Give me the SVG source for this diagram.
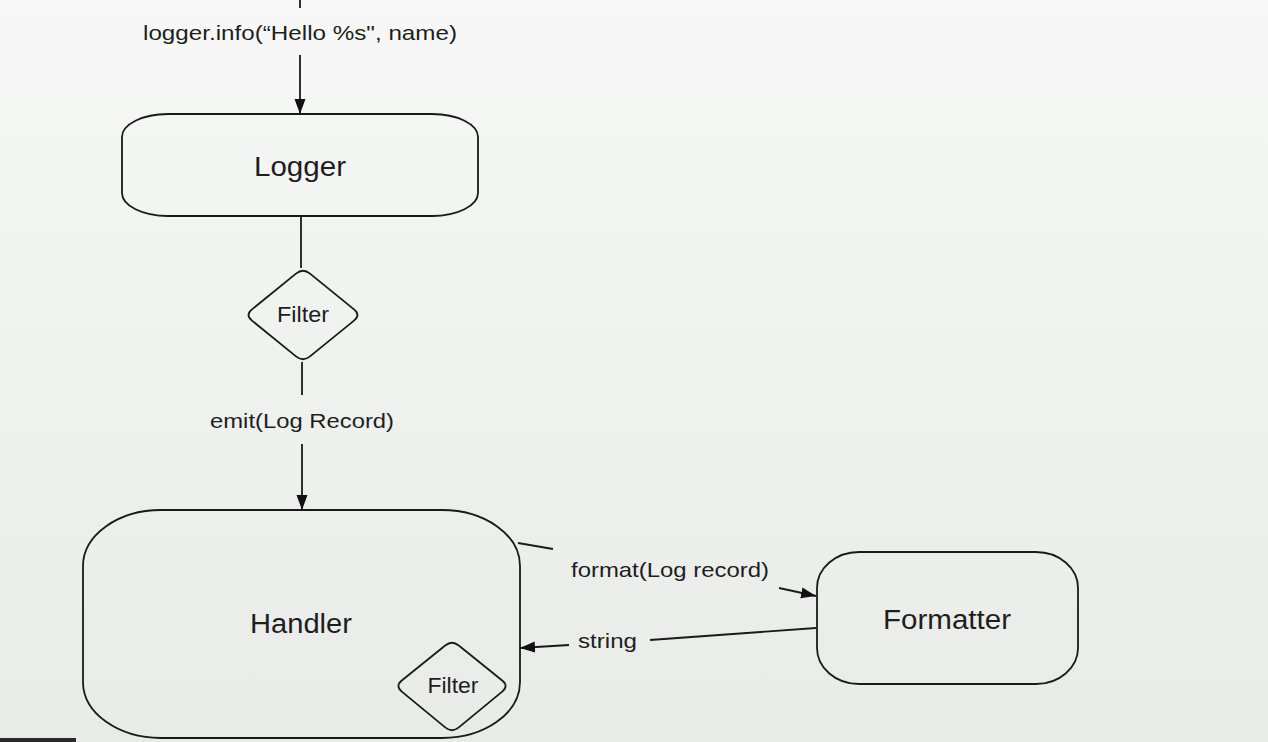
<svg xmlns="http://www.w3.org/2000/svg" width="1268" height="742" viewBox="0 0 1268 742">
<defs>
<linearGradient id="bg" x1="0" y1="0" x2="0" y2="1">
<stop offset="0" stop-color="#f7f8f7"/>
<stop offset="0.4" stop-color="#f1f3f1"/>
<stop offset="1" stop-color="#e9ebe9"/>
</linearGradient>
<marker id="arr" markerUnits="userSpaceOnUse" markerWidth="16" markerHeight="12" refX="15" refY="5.5" orient="auto">
<path d="M0,0 L15,5.5 L0,11 Z" fill="#111"/>
</marker>
</defs>
<style>
.shape{fill:none;stroke:#1a1a1a;stroke-width:1.8}
.conn{fill:none;stroke:#1a1a1a;stroke-width:1.8}
.title{font-family:"Liberation Sans",Arial,sans-serif;font-size:27px;fill:#1e1e1e;text-anchor:middle}
.lbl{font-family:"Liberation Sans",Arial,sans-serif;font-size:21px;fill:#1e1e1e;text-anchor:middle}
.flt{font-family:"Liberation Sans",Arial,sans-serif;font-size:22px;fill:#1e1e1e;text-anchor:middle}
</style>
<rect x="0" y="0" width="1268" height="742" fill="url(#bg)"/>
<rect x="0" y="738" width="76" height="4" fill="#2a2a2a"/>

<g id="connectors">
<line class="conn" x1="300" y1="0" x2="300" y2="8"/>
<line class="conn" x1="300" y1="55" x2="300" y2="114" marker-end="url(#arr)"/>
<line class="conn" x1="301" y1="216" x2="301" y2="268"/>
<line class="conn" x1="302" y1="362" x2="302" y2="395"/>
<line class="conn" x1="302" y1="444" x2="302" y2="510" marker-end="url(#arr)"/>
<line class="conn" x1="518" y1="543" x2="553" y2="549"/>
<line class="conn" x1="779" y1="588" x2="816" y2="596" marker-end="url(#arr)"/>
<line class="conn" x1="816" y1="628" x2="650" y2="640"/>
<line class="conn" x1="569" y1="645" x2="520" y2="648" marker-end="url(#arr)"/>
<text class="lbl" x="300" y="40" textLength="314" lengthAdjust="spacingAndGlyphs">logger.info(“Hello %s", name)</text>
<text class="lbl" x="302" y="428" textLength="184" lengthAdjust="spacingAndGlyphs">emit(Log Record)</text>
<text class="lbl" x="670" y="577" textLength="198" lengthAdjust="spacingAndGlyphs">format(Log record)</text>
<text class="lbl" x="607.5" y="648" textLength="59" lengthAdjust="spacingAndGlyphs">string</text>
</g>

<g id="logger">
<rect class="shape" x="122" y="114" width="356" height="102" rx="46" ry="23"/>
<text class="title" x="300" y="176" textLength="92" lengthAdjust="spacingAndGlyphs">Logger</text>
</g>

<g id="filter1">
<path class="shape" d="M310,273.6 L354,309.4 Q361,315 354,320.6 L310,356.4 Q303,362 296,356.4 L252,320.6 Q245,315 252,309.4 L296,273.6 Q303,268 310,273.6 Z"/>
<text class="flt" x="303" y="322" textLength="52" lengthAdjust="spacingAndGlyphs">Filter</text>
</g>

<g id="handler">
<rect class="shape" x="83" y="510" width="437" height="228" rx="78" ry="56"/>
<text class="title" x="301" y="633" textLength="102" lengthAdjust="spacingAndGlyphs">Handler</text>
</g>

<g id="filter2">
<path class="shape" d="M458.8,645.5 L502.2,680.5 Q509,686 502.2,691.6 L458.8,727.4 Q452,733 445.2,727.4 L401.8,691.6 Q395,686 401.8,680.5 L445.2,645.5 Q452,640 458.8,645.5 Z"/>
<text class="flt" x="453" y="693" textLength="51" lengthAdjust="spacingAndGlyphs">Filter</text>
</g>

<g id="formatter">
<rect class="shape" x="817" y="552" width="261" height="132" rx="42" ry="36"/>
<text class="title" x="947" y="629" textLength="128" lengthAdjust="spacingAndGlyphs">Formatter</text>
</g>
</svg>
